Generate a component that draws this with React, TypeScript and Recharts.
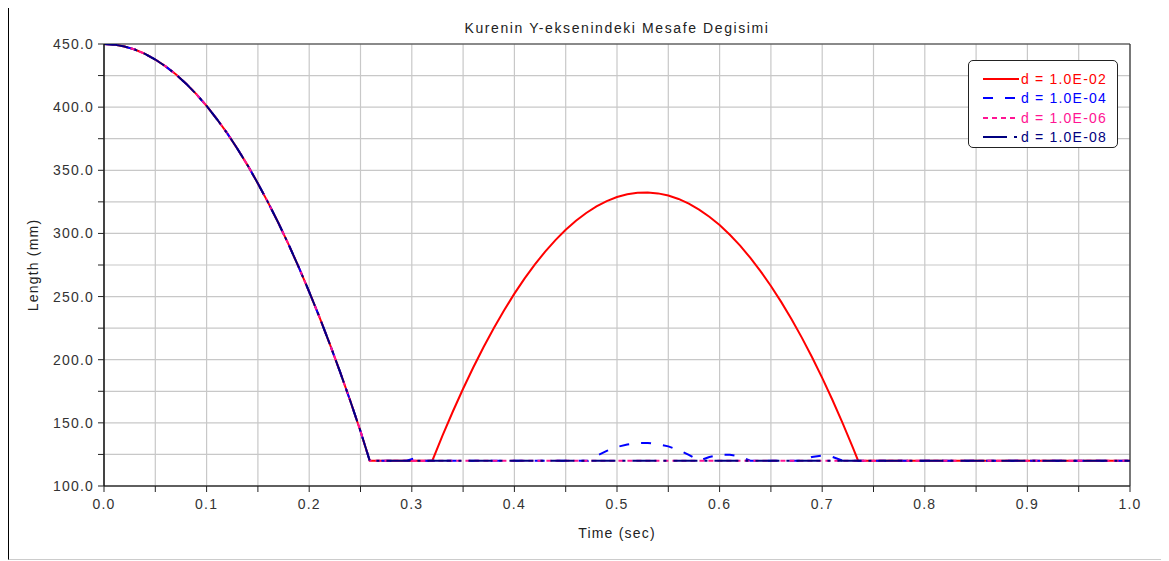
import {
  LineChart,
  Line,
  XAxis,
  YAxis,
  CartesianGrid,
  ReferenceLine,
} from "recharts";

// free fall from 450 mm down to the floor level (same for every d)
const fallTime = [
  0, 0.01, 0.02, 0.03, 0.04, 0.05, 0.06, 0.07, 0.08, 0.09, 0.1, 0.11, 0.12, 0.13, 0.14, 0.15,
  0.16, 0.17, 0.18, 0.19, 0.2, 0.21, 0.22, 0.23, 0.24, 0.25, 0.259,
];
const fallLength = [
  450, 449.5, 448.0, 445.6, 442.2, 437.7, 432.3, 426.0, 418.6, 410.3, 401.0, 390.6, 379.4,
  367.1, 353.9, 339.6, 324.4, 308.2, 291.1, 272.9, 253.8, 233.7, 212.6, 190.5, 167.5, 143.4, 120,
];

// d = 1.0E-02 : big rebound
const redTime = [
  0.32, 0.33, 0.34, 0.35, 0.36, 0.37, 0.38, 0.39, 0.4, 0.41, 0.42, 0.43, 0.44, 0.45, 0.46,
  0.47, 0.48, 0.49, 0.5, 0.51, 0.52, 0.53, 0.54, 0.55, 0.56, 0.57, 0.58, 0.59, 0.6, 0.61,
  0.62, 0.63, 0.64, 0.65, 0.66, 0.67, 0.68, 0.69, 0.7, 0.71, 0.72, 0.73, 0.735, 1.0,
];
const redLength = [
  120, 140.0, 159.0, 177.0, 194.0, 210.1, 225.1, 239.2, 252.3, 264.4, 275.5, 285.6, 294.7,
  302.9, 310.0, 316.2, 321.4, 325.6, 328.8, 331.0, 332.2, 332.5, 331.7, 330.0, 327.3, 323.6,
  318.9, 313.2, 306.6, 298.9, 290.3, 280.6, 270.0, 258.4, 245.8, 232.3, 217.7, 202.2, 185.6,
  168.1, 149.6, 130.1, 120, 120,
];

// d = 1.0E-04 : small bumps
const blueTime = [
  0.295, 0.303, 0.311, 0.472, 0.48, 0.49, 0.5, 0.51, 0.52, 0.53, 0.54, 0.55, 0.56, 0.57,
  0.58, 0.59, 0.6, 0.61, 0.62, 0.63, 0.68, 0.69, 0.7, 0.71, 0.72, 1.0,
];
const blueLength = [
  120, 122, 120, 120, 123.8, 127.8, 130.9, 132.9, 134.0, 134.1, 133.2, 131.4, 128.5, 124.7,
  120, 123, 124.8, 124.8, 123.2, 120, 120, 123, 124, 123, 120, 120,
];

// d = 1.0E-06 and d = 1.0E-08 stay on the floor
const restTime = [1.0];
const restLength = [120];

const xTicks = [
  0, 0.05, 0.1, 0.15, 0.2, 0.25, 0.3, 0.35, 0.4, 0.45, 0.5, 0.55, 0.6, 0.65, 0.7, 0.75, 0.8,
  0.85, 0.9, 0.95, 1.0,
];
const yTicks = [100, 125, 150, 175, 200, 225, 250, 275, 300, 325, 350, 375, 400, 425, 450];

const toPoints = (time: number[], len: number[]) =>
  time.map((t, i) => ({ t, v: len[i] }));

const fall = toPoints(fallTime, fallLength);

const series = [
  { name: "d = 1.0E-02", color: "#ff0000", dash: undefined, data: fall.concat(toPoints(redTime, redLength)) },
  { name: "d = 1.0E-04", color: "#0000ff", dash: "10 12", data: fall.concat(toPoints(blueTime, blueLength)) },
  { name: "d = 1.0E-06", color: "#ff1493", dash: "5 4", data: fall.concat(toPoints(restTime, restLength)) },
  { name: "d = 1.0E-08", color: "#000080", dash: "24 7 3 7", data: fall.concat(toPoints(restTime, restLength)) },
];

const font = "'Liberation Sans', Arial, sans-serif";
const tickStyle = { fontSize: 14, fill: "#333", fontFamily: font, letterSpacing: 1.2 };

export default function App() {
  return (
    <div style={{ position: "relative", width: 1161, height: 553, fontFamily: font }}>
      <div
        style={{
          position: "absolute",
          left: 0,
          top: -2,
          width: 1160,
          height: 552,
          borderLeft: "1px solid #000",
          borderTop: "1px solid #000",
          borderBottom: "1px solid #ccc",
        }}
      />

      <LineChart
        width={1160}
        height={552}
        margin={{ top: 36, right: 38, left: 36, bottom: 34 }}
        style={{ position: "absolute", left: 0, top: 0 }}
      >
        <CartesianGrid stroke="#c8c8c8" strokeWidth={1.2} />
        <XAxis
          dataKey="t"
          type="number"
          domain={[0, 1]}
          ticks={xTicks}
          interval={0}
          height={40}
          tickSize={6}
          tickMargin={7}
          tick={tickStyle}
          tickLine={{ stroke: "#222" }}
          axisLine={{ stroke: "#333", strokeWidth: 1.5 }}
          tickFormatter={(v: number, i: number) => (i % 2 === 0 ? v.toFixed(1) : "")}
          allowDataOverflow
        />
        <YAxis
          type="number"
          domain={[100, 450]}
          ticks={yTicks}
          interval={0}
          width={60}
          tickSize={6}
          tickMargin={4}
          tick={tickStyle}
          tickLine={{ stroke: "#222" }}
          axisLine={{ stroke: "#111", strokeWidth: 1.5 }}
          tickFormatter={(v: number, i: number) => (i % 2 === 0 ? v.toFixed(1) : "")}
          allowDataOverflow
        />
        <ReferenceLine y={450} stroke="#333" strokeWidth={1.2} />
        <ReferenceLine x={1} stroke="#333" strokeWidth={1.2} />
        {series.map((s) => (
          <Line
            key={s.name}
            data={s.data}
            dataKey="v"
            type="linear"
            stroke={s.color}
            strokeWidth={2}
            strokeDasharray={s.dash}
            dot={false}
            activeDot={false}
            isAnimationActive={false}
          />
        ))}
      </LineChart>

      <div
        style={{
          position: "absolute",
          left: 309,
          top: 13,
          width: 600,
          textAlign: "center",
          fontSize: 14,
          lineHeight: "14px",
          letterSpacing: 1.6,
          color: "#222",
        }}
      >
        Kurenin Y-eksenindeki Mesafe Degisimi
      </div>

      <div
        style={{
          position: "absolute",
          left: 309,
          top: 518,
          width: 600,
          textAlign: "center",
          fontSize: 14,
          lineHeight: "14px",
          letterSpacing: 1.2,
          color: "#222",
        }}
      >
        Time (sec)
      </div>

      <div
        style={{
          position: "absolute",
          left: -35,
          top: 250,
          width: 120,
          height: 14,
          textAlign: "center",
          fontSize: 14,
          lineHeight: "14px",
          letterSpacing: 1.2,
          color: "#222",
          transform: "rotate(-90deg)",
          transformOrigin: "center",
        }}
      >
        Length (mm)
      </div>

      <div
        style={{
          position: "absolute",
          left: 960,
          top: 52,
          width: 150,
          height: 88,
          border: "1.5px solid #222",
          borderRadius: 5,
          background: "#fff",
          paddingTop: 8,
          boxSizing: "border-box",
        }}
      >
        {series.map((s) => (
          <div
            key={s.name}
            style={{ display: "flex", alignItems: "center", height: 19.5, paddingLeft: 14 }}
          >
            <svg width={36} height={10} style={{ flex: "none" }}>
              <line
                x1={0}
                y1={5}
                x2={36}
                y2={5}
                stroke={s.color}
                strokeWidth={2.2}
                strokeDasharray={s.dash}
              />
            </svg>
            <span
              style={{
                marginLeft: 2,
                fontSize: 14,
                lineHeight: "14px",
                letterSpacing: 1.2,
                color: s.color,
                whiteSpace: "nowrap",
              }}
            >
              {s.name}
            </span>
          </div>
        ))}
      </div>
    </div>
  );
}
